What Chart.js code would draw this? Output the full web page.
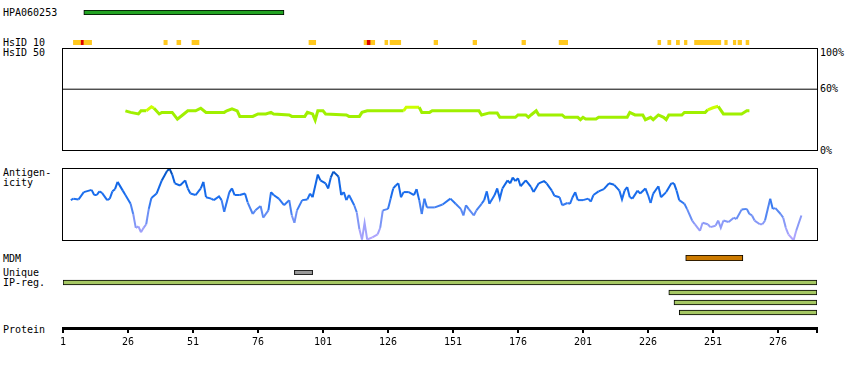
<!DOCTYPE html>
<html lang="en">
<head>
<meta charset="UTF-8">
<title>HPA060253</title>
<script src="https://cdn.jsdelivr.net/npm/chart.js"></script>
<style>
  * { margin: 0; padding: 0; box-sizing: border-box; }
  body {
    background: #fff;
    width: 850px;
    height: 370px;
    position: relative;
    overflow: hidden;
    font-family: 'DejaVu Sans Mono', monospace;
    font-size: 10px;
    color: #000;
  }
  canvas { position: absolute; }
  .lbl { position: absolute; left: 3px; line-height: 10px; white-space: nowrap; }
</style>
</head>
<body>
  <div class="lbl" style="top:8px">HPA060253</div>
  <div class="lbl" style="top:38px">HsID 10</div>
  <div class="lbl" style="top:48px">HsID 50</div>
  <div class="lbl" style="top:168px">Antigen-<br>icity</div>
  <div class="lbl" style="top:254px">MDM</div>
  <div class="lbl" style="top:268px">Unique</div>
  <div class="lbl" style="top:278px">IP-reg.</div>
  <div class="lbl" style="top:325px">Protein</div>

  <canvas id="hpa" width="754" height="5" style="left:63px;top:10px"></canvas>
  <canvas id="hsid10" width="754" height="5" style="left:63px;top:40px"></canvas>
  <canvas id="hsid50" width="756" height="103" style="left:62px;top:48px"></canvas>
  <canvas id="antigen" width="756" height="73" style="left:62px;top:168px"></canvas>
  <canvas id="mdm" width="754" height="6" style="left:63px;top:255px"></canvas>
  <canvas id="unique" width="754" height="5" style="left:63px;top:270px"></canvas>
  <canvas id="ipreg" width="754" height="41" style="left:63px;top:277px"></canvas>
  <canvas id="axis" width="794" height="32" style="left:43px;top:318px"></canvas>

<script>
// protein length and axis ticks
const residueMin = 1;
const residueMax = 291;
const proteinTicks = [1, 26, 51, 76, 101, 126, 151, 176, 201, 226, 251, 276];

// antigen fragment
const antibodyRegion = [9, 86];

// HsID 10 hits (yellow = some identity, red = high)
const hsid10Low = [[5, 12], [39.8, 41.1], [44.8, 46.3], [50.6, 53.3], [95.6, 98.2],
  [116.8, 120.9], [124.8, 125.9], [126.8, 130.9], [143.7, 145.1], [158.7, 160.1],
  [177.5, 178.9], [191.8, 195.1], [229.8, 230.9], [233.6, 234.8], [236.9, 238.1],
  [240, 241], [243.9, 254], [255.5, 256.5], [258.8, 259.8], [260.6, 262], [263.7, 264.8]];
const hsid10High = [[8, 8.8], [118, 119.1]];

// HsID 50 identity (%)
const hsid50Ref = 60;
const hsid50Ticks = [100, 60, 0];
const hsid50Res = [25, 27, 30, 31, 33, 35, 36, 38, 39, 43, 45, 47, 49, 52, 54, 56, 63, 64, 66, 68,
  69, 74, 76, 79, 81, 82, 88, 89, 94, 95, 97, 98, 99, 101, 102, 110, 111, 115, 116, 118,
  132, 133, 138, 139, 142, 143, 161, 162, 165, 168, 169, 175, 176, 179, 180, 181, 183, 184, 193, 194,
  199, 200, 201, 202, 206, 207, 218, 219, 221, 224, 225, 227, 228, 230, 232, 233, 234, 239, 240, 248,
  249, 251, 253, 255, 262, 264, 265];
const hsid50Val = [39, 37.5, 36, 39, 39, 43, 41.5, 36, 37.5, 37.5, 31, 35, 39, 39, 41.5, 37.5, 37.5, 39, 41, 39,
  33.6, 33.6, 36, 36, 37.5, 36, 35, 33.6, 33.6, 37.5, 36, 30, 39, 39, 36, 35, 33.6, 33.6, 37.5, 39,
  39, 42.5, 42.5, 37.5, 37.5, 39, 39, 35, 37, 37, 32.7, 32.7, 35, 35, 32.7, 35, 39, 35, 35, 32.7,
  32.7, 30.4, 32.7, 31, 31, 32.7, 32.7, 37.5, 35, 35, 30.4, 32.7, 30.4, 35, 32.7, 30.4, 35, 35, 37.5, 37.5,
  40, 42, 43.4, 36, 36, 39, 39];

// antigenicity (relative, 0 = panel bottom, 100 = panel top)
const antigenRes = [4, 5, 7, 9, 12, 13, 14, 15, 16, 18, 19, 20, 21, 22, 24, 25, 27, 28, 29, 30,
  31, 32, 33, 34, 35, 37, 39, 41, 42, 43, 44, 46, 48, 49, 50, 52, 54, 55, 56, 58,
  59, 61, 62, 63, 65, 66, 67, 69, 71, 72, 74, 75, 77, 78, 80, 81, 82, 84, 86, 88,
  89, 90, 91, 93, 95, 96, 97, 99, 100, 102, 103, 104, 105, 107, 108, 109, 110, 111, 113, 114,
  115, 116, 117, 118, 120, 122, 123, 124, 126, 127, 128, 129, 130, 131, 132, 134, 136, 137, 138, 139,
  140, 141, 144, 147, 150, 152, 154, 155, 156, 157, 159, 160, 162, 163, 164, 165, 167, 168, 169, 170,
  172, 173, 174, 175, 176, 177, 179, 181, 182, 184, 186, 187, 189, 190, 192, 193, 195, 196, 197, 198,
  199, 201, 203, 204, 205, 207, 209, 211, 213, 215, 216, 217, 218, 219, 220, 222, 223, 225, 226, 227,
  228, 230, 231, 233, 235, 236, 237, 238, 240, 241, 243, 244, 246, 247, 249, 250, 252, 253, 254, 255,
  257, 259, 260, 262, 264, 265, 266, 267, 269, 270, 271, 273, 274, 275, 277, 278, 279, 280, 282, 283, 285];
const antigenVal = [56, 58, 57, 67, 70, 63, 63, 68, 66, 56, 58, 68, 71, 81, 69, 63, 51, 37, 18, 20,
  12, 18, 23, 44, 59, 65, 83, 96, 99, 91, 79, 76, 83, 72, 65, 63, 72, 81, 60, 58,
  56, 61, 56, 40, 67, 72, 63, 63, 65, 53, 37, 42, 48, 32, 42, 67, 63, 58, 49, 56,
  35, 25, 42, 56, 57, 65, 60, 91, 83, 79, 72, 87, 95, 88, 63, 67, 56, 63, 49, 39,
  16, 2, 25, 2, 5, 9, 18, 42, 44, 58, 72, 76, 79, 60, 67, 67, 63, 71, 56, 37,
  58, 46, 46, 50, 58, 51, 44, 35, 49, 44, 35, 42, 51, 56, 68, 51, 63, 72, 58, 72,
  83, 79, 87, 82, 86, 75, 83, 74, 67, 79, 82, 79, 69, 62, 60, 49, 52, 51, 60, 67,
  56, 56, 58, 54, 63, 68, 71, 79, 77, 69, 57, 69, 74, 60, 58, 69, 65, 72, 63, 52,
  65, 75, 60, 67, 79, 79, 69, 56, 51, 44, 28, 23, 14, 25, 23, 19, 21, 28, 18, 28,
  26, 32, 30, 43, 44, 37, 35, 28, 23, 23, 28, 58, 44, 45, 37, 32, 18, 9, 1, 14, 35];

// other tracks
const mdmRegion = [240.5, 262.5];
const uniqueRegion = [90, 97];
const ipStart = [1, 234, 236, 238];
const ipEnd = [291, 291, 291, 291];

const monoFont = { family: 'DejaVu Sans Mono', size: 10 };

// black frame around the line panels
const frame = {
  id: 'frame',
  afterDraw(chart) {
    const { ctx, chartArea: a } = chart;
    ctx.save();
    ctx.strokeStyle = '#000';
    ctx.lineWidth = 1;
    ctx.strokeRect(a.left - 0.5, a.top + 0.5, a.width + 1, a.height - 1);
    ctx.restore();
  }
};

function baseOptions(extra) {
  return Object.assign({
    responsive: false,
    animation: false,
    events: [],
    plugins: { legend: { display: false }, tooltip: { enabled: false } }
  }, extra);
}

function trackChart(id, labels, datasets, padding) {
  return new Chart(document.getElementById(id), {
    type: 'bar',
    data: { labels: labels, datasets: datasets },
    options: baseOptions({
      indexAxis: 'y',
      layout: { padding: padding || 0 },
      scales: {
        x: { type: 'linear', min: residueMin, max: residueMax, display: false },
        y: { display: false }
      }
    })
  });
}

function boxBar(region, color) {
  return {
    data: [region],
    backgroundColor: color,
    borderColor: '#000',
    borderWidth: 1,
    borderSkipped: false,
    barPercentage: 1,
    categoryPercentage: 1
  };
}

trackChart('hpa', ['HPA060253'], [boxBar(antibodyRegion, '#22a322')]);
trackChart('mdm', ['MDM'], [boxBar(mdmRegion, '#cc7a00')]);
trackChart('unique', ['Unique'], [boxBar(uniqueRegion, '#9a9a9a')]);

// first dataset is drawn on top, so the red hits go first
trackChart('hsid10', ['HsID 10'], [
  { data: hsid10High.map(s => ({ x: s, y: 'HsID 10' })), backgroundColor: '#dd0000',
    borderWidth: 0, barPercentage: 1, categoryPercentage: 1, grouped: false },
  { data: hsid10Low.map(s => ({ x: s, y: 'HsID 10' })), backgroundColor: '#ffc81e',
    borderWidth: 0, barPercentage: 1, categoryPercentage: 1, grouped: false }
]);

trackChart('ipreg', ipStart.map((_, i) => 'IP ' + i), [{
  data: ipStart.map((s, i) => [s, ipEnd[i]]),
  backgroundColor: '#a6c864',
  borderColor: '#000',
  borderWidth: 1,
  borderSkipped: false,
  barThickness: 5
}], { top: 0.5, bottom: 0.5 });

// HsID 50 panel
const hsid50Chart = new Chart(document.getElementById('hsid50'), {
  type: 'line',
  data: {
    datasets: [
      {
        data: hsid50Res.map((r, i) => ({ x: r, y: hsid50Val[i] })),
        borderWidth: 3,
        pointRadius: 0,
        borderColor: '#a0f000',
        segment: {
          borderColor: c => (c.p0.parsed.y + c.p1.parsed.y) / 2 > 40.5 ? '#ccff00' : '#a0f000'
        }
      },
      {
        data: [{ x: residueMin, y: hsid50Ref }, { x: residueMax, y: hsid50Ref }],
        borderColor: '#000',
        borderWidth: 1,
        pointRadius: 0
      }
    ]
  },
  options: baseOptions({
    layout: { padding: { left: 1, right: 1 } },
    scales: {
      x: { type: 'linear', min: residueMin, max: residueMax, display: false },
      y: { min: 0, max: 100, display: false }
    }
  }),
  plugins: [frame]
});

// percent labels to the right of the HsID 50 panel
const hsidCanvas = document.getElementById('hsid50');
hsid50Ticks.forEach(v => {
  const d = document.createElement('div');
  d.className = 'lbl';
  d.textContent = v + '%';
  const y = hsidCanvas.offsetTop + hsid50Chart.scales.y.getPixelForValue(v);
  d.style.left = '820px';
  d.style.top = Math.max(hsidCanvas.offsetTop, Math.round(y - 5)) + 'px';
  document.body.appendChild(d);
});

// antigenicity panel, colour follows the value
const antigenStops = [
  [0, [185, 168, 255]], [22, [145, 156, 248]], [42, [85, 135, 242]],
  [58, [30, 112, 240]], [85, [12, 98, 225]], [100, [0, 70, 165]]
];
function antigenColor(v) {
  for (let i = 1; i < antigenStops.length; i++) {
    const [v0, c0] = antigenStops[i - 1];
    const [v1, c1] = antigenStops[i];
    if (v <= v1) {
      const t = Math.max(0, (v - v0) / (v1 - v0));
      return 'rgb(' + c0.map((c, k) => Math.round(c + (c1[k] - c) * t)).join(',') + ')';
    }
  }
  return 'rgb(0,70,165)';
}

new Chart(document.getElementById('antigen'), {
  type: 'line',
  data: {
    datasets: [{
      data: antigenRes.map((r, i) => ({ x: r, y: antigenVal[i] })),
      borderWidth: 2,
      pointRadius: 0,
      borderColor: '#1a70f0',
      segment: {
        borderColor: c => antigenColor((c.p0.parsed.y + c.p1.parsed.y) / 2)
      }
    }]
  },
  options: baseOptions({
    layout: { padding: { left: 1, right: 1 } },
    scales: {
      x: { type: 'linear', min: residueMin, max: residueMax, display: false },
      y: { min: 0, max: 100, display: false }
    }
  }),
  plugins: [frame]
});

// protein ruler
new Chart(document.getElementById('axis'), {
  type: 'line',
  data: { datasets: [] },
  options: baseOptions({
    layout: { padding: { left: 20, right: 20 } },
    scales: {
      x: {
        type: 'linear',
        min: residueMin,
        max: residueMax,
        afterBuildTicks: s => { s.ticks = proteinTicks.concat([residueMax]).map(v => ({ value: v })); },
        afterFit: s => { s.height = 22; },
        border: { color: '#000', width: 3 },
        grid: { drawOnChartArea: false, color: '#000', tickLength: 5, lineWidth: 2 },
        ticks: {
          color: '#000',
          padding: 3,
          maxRotation: 0,
          autoSkip: false,
          font: monoFont,
          callback: v => proteinTicks.includes(v) ? String(v) : ''
        }
      },
      y: { display: false }
    }
  })
});
</script>
</body>
</html>
